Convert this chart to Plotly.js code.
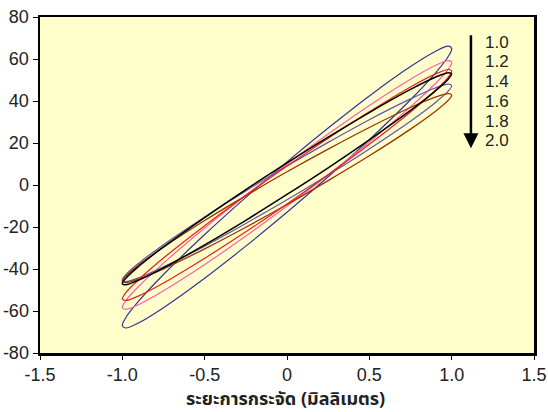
<!DOCTYPE html>
<html>
<head>
<meta charset="utf-8">
<script src="https://cdn.plot.ly/plotly-3.0.1.min.js"></script>
<style>html,body{margin:0;padding:0;background:#fff;}#chart{width:548px;height:412px;}</style>
</head>
<body>
<div id="chart"></div>
<script>
// Displacement sample points (mm), from right end to left end
const displacement = [1, 0.98, 0.9, 0.75, 0.5, 0.25, 0, -0.25, -0.5, -0.75, -0.9, -0.98, -1];

// Loop labels (legend text)
const loopLabels = ['1.0', '1.2', '1.4', '1.6', '1.8', '2.0'];

// Upper branch (travelling right -> left) and lower branch values
const upper_10 = [65, 66.1, 63.6, 56.4, 42.4, 27.1, 11, -5.9, -23.6, -42.6, -55.2, -63.3, -67];
const lower_10 = [65, 61.3, 53.2, 40.6, 21.6, 3.9, -13, -29.1, -44.4, -58.4, -65.6, -68.1, -67];

const upper_12 = [58.4, 59.2, 56.9, 50.4, 37.9, 24.3, 10, -4.9, -20.5, -37.2, -48.2, -55.2, -58.4];
const lower_12 = [58.4, 55.2, 48.2, 37.2, 20.5, 4.9, -10, -24.3, -37.9, -50.4, -56.9, -59.2, -58.4];

const upper_14 = [54.3, 55.0, 52.8, 46.7, 34.9, 22.3, 9, -4.9, -19.4, -34.8, -45.0, -51.4, -54.3];
const lower_14 = [54.3, 51.4, 45.0, 34.8, 19.4, 4.9, -9, -22.3, -34.9, -46.7, -52.8, -55.0, -54.3];

const upper_16 = [53, 53.5, 51.3, 45.5, 34.5, 22.8, 10.5, -2.2, -15.5, -29.5, -38.7, -44.5, -47];
const lower_16 = [53, 50.5, 44.7, 35.5, 21.5, 8.2, -4.5, -16.8, -28.5, -39.5, -45.3, -47.5, -47];

const upper_18 = [47.3, 48.0, 46.2, 41.0, 31.1, 20.3, 9, -2.8, -15.2, -28.4, -37.2, -42.8, -45.3];
const lower_18 = [47.3, 44.8, 39.2, 30.4, 17.2, 4.8, -7, -18.3, -29.1, -39.0, -44.2, -46.0, -45.3];

const upper_20 = [42.8, 43.5, 41.8, 36.9, 27.4, 17.1, 6.3, -5.1, -16.9, -29.6, -38.0, -43.4, -45.8];
const lower_20 = [42.8, 40.4, 35.0, 26.6, 13.9, 2.1, -9.3, -20.1, -30.4, -39.9, -44.8, -46.5, -45.8];

const xTickVals = [-1.5, -1.0, -0.5, 0, 0.5, 1.0, 1.5];
const xTickText = ['-1.5', '-1.0', '-0.5', '0', '0.5', '1.0', '1.5'];
const yTickVals = [-80, -60, -40, -20, 0, 20, 40, 60, 80];
const yTickText = ['-80', '-60', '-40', '-20', '0', '20', '40', '60', '80'];
const xTitle = 'ระยะการกระจัด (มิลลิเมตร)';

const loops = [
  {u: upper_10, l: lower_10, color: '#333399', w: 1.2},
  {u: upper_12, l: lower_12, color: '#ff5fa8', w: 1.2},
  {u: upper_14, l: lower_14, color: '#ee1c24', w: 1.2},
  {u: upper_16, l: lower_16, color: '#000000', w: 1.5},
  {u: upper_18, l: lower_18, color: '#6352b0', w: 1.2},
  {u: upper_20, l: lower_20, color: '#993300', w: 1.3}
];

const revX = displacement.slice().reverse();
const traces = loops.map((lp, i) => ({
  type: 'scatter',
  mode: 'lines',
  x: displacement.concat(revX.slice(1)),
  y: lp.u.concat(lp.l.slice().reverse().slice(1)),
  line: {color: lp.color, width: lp.w, shape: 'spline', smoothing: 1},
  name: loopLabels[i],
  hoverinfo: 'skip'
}));
const order = [0, 1, 4, 5, 2, 3];
const data = order.map(i => traces[i]);

const annotations = [{
  x: 1.117, y: 17.5, xref: 'x', yref: 'y',
  ax: 1.117, ay: 72, axref: 'x', ayref: 'y',
  showarrow: true, arrowhead: 2, arrowsize: 1.2, arrowwidth: 2.5, arrowcolor: '#000', text: ''
}];
loopLabels.forEach((t, i) => {
  annotations.push({
    x: 1.275, y: 68 - i * 9.4, xref: 'x', yref: 'y',
    text: t, showarrow: false, xanchor: 'center', yanchor: 'middle',
    font: {family: 'Liberation Sans, Arial, sans-serif', size: 17, color: '#222'}
  });
});
annotations.push({
  x: 0.497, y: -0.137, xref: 'paper', yref: 'paper', xanchor: 'center', yanchor: 'middle',
  text: xTitle, showarrow: false, borderpad: 0,
  font: {family: 'Noto Sans Thai, Noto Sans, Liberation Sans, sans-serif', size: 18, color: '#222', weight: 'bold'}
});

const tickFont = {family: 'Liberation Sans, Arial, sans-serif', size: 18, color: '#222'};
const axisCommon = {
  showline: true, linecolor: '#000', linewidth: 2.5, mirror: true,
  ticks: 'outside', ticklen: 5, tickwidth: 1, tickcolor: '#000',
  showgrid: false, zeroline: false,
  tickfont: tickFont
};

const layout = {
  width: 548, height: 412,
  margin: {l: 40, r: 14, t: 17, b: 59},
  paper_bgcolor: '#ffffff',
  plot_bgcolor: '#ffffcc',
  showlegend: false,
  xaxis: Object.assign({}, axisCommon, {
    range: [-1.5, 1.5], tickmode: 'array', tickvals: xTickVals, ticktext: xTickText,
    ticklen: 4
  }),
  yaxis: Object.assign({}, axisCommon, {
    range: [-80, 80], tickmode: 'array', tickvals: yTickVals, ticktext: yTickText
  }),
  annotations: annotations
};

Plotly.newPlot('chart', data, layout, {staticPlot: true, displayModeBar: false});
</script>
</body>
</html>
